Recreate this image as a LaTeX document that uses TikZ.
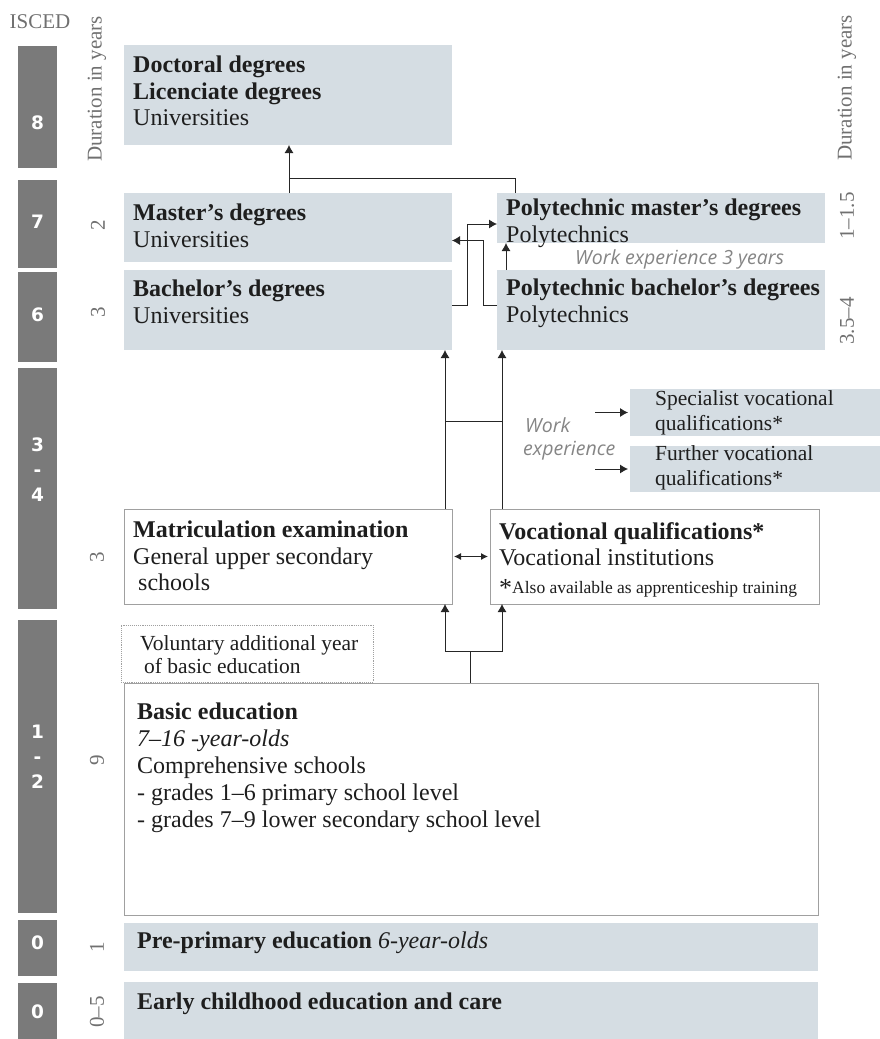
\documentclass[tikz,border=0pt]{standalone}
\usepackage{fontspec}
\setmainfont{Liberation Serif}
\newfontfamily\barfont{DejaVu Sans}
\newfontfamily\workfont{Open Sans}
\usepackage{tikz}
\usetikzlibrary{arrows.meta}
\definecolor{boxgray}{HTML}{D5DDE3}
\definecolor{bargray}{HTML}{7A7A7A}
\definecolor{linegray}{HTML}{A0A0A0}
\definecolor{durgray}{HTML}{707070}
\definecolor{txtgray}{HTML}{1E1E1E}

\begin{document}
\begin{tikzpicture}[x=1pt, y=-1pt,
    gbox/.style={fill=boxgray, inner sep=0, outer sep=0, anchor=north west},
    wbox/.style={draw=linegray, fill=white, line width=0.9pt, inner sep=0, outer sep=0, anchor=north west},
    bar/.style={fill=bargray, minimum width=39, inner sep=0, outer sep=0, anchor=north west},
    barnum/.style={text=white, font=\barfont\bfseries\fontsize{18.5}{25}\selectfont, align=center, inner sep=0},
    dur/.style={rotate=90, text=durgray, font=\fontsize{21}{21}\selectfont, inner sep=0},
    txt/.style={anchor=north west, align=left, inner sep=0, text=txtgray, font=\fontsize{24}{26.5}\selectfont},
    smalltxt/.style={txt, font=\fontsize{21.5}{25}\selectfont},
    worktxt/.style={anchor=north west, align=left, inner sep=0, text=durgray!85, font=\workfont\itshape\fontsize{19.5}{23}\selectfont},
    line/.style={line width=0.9pt, draw=black!85},
    arr/.style={line, -{Latex[length=8pt,width=9pt]}},
    arr2/.style={line, {Latex[length=7pt,width=7pt]}-{Latex[length=7pt,width=7pt]}}]
    \useasboundingbox (0,0) rectangle (880,1039);

    \node[font=\fontsize{21}{21}\selectfont, text=durgray, inner sep=0] (isced) at (40,22) {ISCED};
    \node[dur] (durl) at (97,89) {Duration in years};
    \node[dur] (durr) at (847,88) {Duration in years};

    \node[bar, minimum height=122] (i8) at (18,46) {};
    \node[bar, minimum height=88] (i7) at (18,180) {};
    \node[bar, minimum height=90] (i6) at (18,272) {};
    \node[bar, minimum height=241] (i34) at (18,368) {};
    \node[bar, minimum height=293] (i12) at (18,620) {};
    \node[bar, minimum height=56] (i0a) at (18,920) {};
    \node[bar, minimum height=56] (i0b) at (18,983) {};
    \node[barnum] (n8) at (37.5,123) {8};
    \node[barnum] (n7) at (37.5,222) {7};
    \node[barnum] (n6) at (37.5,315) {6};
    \node[barnum] (n34) at (37.5,470) {3\\-\\4};
    \node[barnum] (n12) at (37.5,757) {1\\-\\2};
    \node[barnum] (n0a) at (37.5,943) {0};
    \node[barnum] (n0b) at (37.5,1012) {0};

    \node[dur] (d7) at (98,225) {2};
    \node[dur] (d6) at (98,312) {3};
    \node[dur] (d34) at (97,557) {3};
    \node[dur] (d12) at (97,760) {9};
    \node[dur] (d0a) at (97,947) {1};
    \node[dur] (d0b) at (97,1012) {0--5};
    \node[dur] (dp7) at (847,216) {1--1.5};
    \node[dur] (dp6) at (847,321) {3.5--4};

    \node[gbox, minimum width=328, minimum height=100] (doc) at (124,45) {};
    \node[gbox, minimum width=328, minimum height=69] (mas) at (124,193) {};
    \node[gbox, minimum width=328, minimum height=80] (bac) at (124,270) {};
    \node[gbox, minimum width=328, minimum height=50] (pmas) at (497,193) {};
    \node[gbox, minimum width=328, minimum height=80] (pbac) at (497,270) {};
    \node[gbox, minimum width=250, minimum height=47] (spec) at (630,389) {};
    \node[gbox, minimum width=250, minimum height=46] (furth) at (630,446) {};
    \node[wbox, minimum width=328, minimum height=95] (mat) at (124,509) {};
    \node[wbox, minimum width=329, minimum height=95] (voc) at (490,509) {};
    \node[wbox, draw=linegray, densely dotted, minimum width=252, minimum height=57] (vol) at (121,625) {};
    \node[wbox, minimum width=694, minimum height=232] (bas) at (124,683) {};
    \node[gbox, minimum width=694, minimum height=48] (pre) at (124,923) {};
    \node[gbox, minimum width=694, minimum height=57] (early) at (124,982) {};

    \node[txt] (doctxt) at (133,56) {\textbf{Doctoral degrees}\\\textbf{Licenciate degrees}\\Universities};
    \node[txt] (mastxt) at (133,204) {\textbf{Master's degrees}\\Universities};
    \node[txt] (bactxt) at (133,280) {\textbf{Bachelor's degrees}\\Universities};
    \node[txt] (pmastxt) at (506,199) {\textbf{Polytechnic master's degrees}\\Polytechnics};
    \node[txt] (pbactxt) at (506,279) {\textbf{Polytechnic bachelor's degrees}\\Polytechnics};
    \node[worktxt, anchor=base west] (wexp3) at (575,264) {Work experience 3 years};
    \node[smalltxt] (spectxt) at (655,390) {Specialist vocational\\qualifications*};
    \node[smalltxt] (furthtxt) at (655,445) {Further vocational\\qualifications*};
    \node[worktxt] (worktxt) at (523,417) {\hspace{2pt}Work\\experience};
    \node[txt] (mattxt) at (133,521) {\textbf{Matriculation examination}\\General upper secondary\\\hspace{5pt}schools};
    \node[txt] (voctxt) at (499,522) {\textbf{Vocational qualifications*}\\Vocational institutions};
    \node[txt, anchor=base west, font=\fontsize{17.5}{20}\selectfont] (vocnote) at (499,593) {{\fontsize{26}{26}\selectfont\raisebox{-3pt}{*}}Also available as apprenticeship training};
    \node[smalltxt, font=\fontsize{21.5}{23}\selectfont] (voltxt) at (140,635) {Voluntary additional year\\\hspace{4pt}of basic education};
    \node[txt, font=\fontsize{24}{27}\selectfont] (bastxt) at (137,703) {\textbf{Basic education}\\\textit{7--16 -year-olds}\\Comprehensive schools\\- grades 1--6 primary school level\\- grades 7--9 lower secondary school level};
    \node[txt, anchor=base west] (pretxt) at (137,948) {\textbf{Pre-primary education} \textit{6-year-olds}};
    \node[txt, anchor=base west] (earlytxt) at (137,1009) {\textbf{Early childhood education and care}};

    \coordinate (mup) at ([xshift=165pt]mas.north west);
    \coordinate (pmup) at ([xshift=18pt]pmas.north west);
    \coordinate (pbup) at ([xshift=9pt]pbac.north west);
    \coordinate (mu) at ([xshift=-7pt]mat.north east);
    \coordinate (vu) at ([xshift=12pt]voc.north west);
    \coordinate (bu) at ([xshift=346pt]bas.north west);
    \coordinate (fork) at ([yshift=32pt]bu);

    \draw[arr] (mup) -- (mup |- doc.south);
    \draw[line] (pmup) |- ([yshift=15pt]mup);
    \draw[arr] ([yshift=5pt]bac.east) -- ++(15,0) |- ([yshift=-6pt]pmas.west);
    \draw[arr] ([yshift=5pt]pbac.west) -- ++(-14,0) |- ([yshift=-13pt]mas.east);
    \draw[arr] (pbup) -- (pbup |- pmas.south);
    \draw[arr] (mu) -- (mu |- bac.south);
    \draw[arr] (vu) -- (vu |- pbac.south);
    \draw[line] ([yshift=88pt]mu) -- ([yshift=88pt]vu);
    \draw[arr, shorten >=2pt] ([xshift=-35pt]spec.west) -- (spec.west);
    \draw[arr, shorten >=2pt] ([xshift=-35pt]furth.west) -- (furth.west);
    \draw[arr2, shorten <=2pt, shorten >=2pt] (mat.east) -- (voc.west);
    \draw[line] (bu) -- (fork);
    \draw[arr] (fork) -| (mu |- mat.south);
    \draw[arr] (fork) -| (vu |- voc.south);
\end{tikzpicture}
\end{document}
